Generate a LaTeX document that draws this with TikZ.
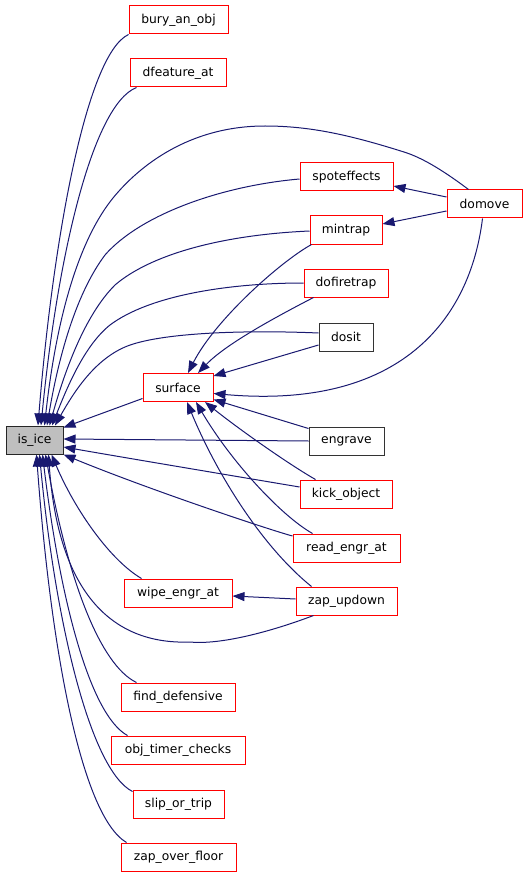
\documentclass[tikz,border=0pt]{standalone}
\usepackage{fontspec}
\setmainfont{DejaVu Sans}
\usetikzlibrary{arrows.meta}
\definecolor{edgeblue}{RGB}{25,25,112}
\definecolor{boxred}{RGB}{255,0,0}
\definecolor{grayfill}{RGB}{191,191,191}
\tikzset{
  fnbox/.style={draw=boxred, line width=1pt, fill=white, minimum height=28pt, inner sep=0pt, font=\fontsize{12.3}{14}\selectfont},
  blackbox/.style={fnbox, draw=black!80},
  rootbox/.style={fnbox, draw=black!85, fill=grayfill},
  arr/.style={draw=edgeblue, line width=1pt, -{Triangle[length=12pt,width=9pt]}},
}
\begin{document}
\begin{tikzpicture}[x=1pt,y=-1pt]
\useasboundingbox (0,0) rectangle (528,877);
% nodes
\node[fnbox, minimum width=99pt] (bury) at (178.5,20) {bury\_an\_obj};
\node[fnbox, minimum width=96pt] (dfeature) at (178,73) {dfeature\_at};
\node[fnbox, minimum width=93pt] (spot) at (346.5,177) {spoteffects};
\node[fnbox, minimum width=75pt] (domove) at (484.5,204) {domove};
\node[fnbox, minimum width=72pt] (mintrap) at (346,230) {mintrap};
\node[fnbox, minimum width=84pt] (dofire) at (346,283) {dofiretrap};
\node[blackbox, minimum width=54pt] (dosit) at (346,337) {dosit};
\node[fnbox, minimum width=70pt] (surface) at (178,387.5) {surface};
\node[rootbox, minimum width=57pt] (isice) at (34.5,440) {is\_ice};
\node[blackbox, minimum width=75pt] (engrave) at (346.5,441) {engrave};
\node[fnbox, minimum width=92pt] (kick) at (346,494) {kick\_object};
\node[fnbox, minimum width=107pt] (read) at (346.5,548) {read\_engr\_at};
\node[fnbox, minimum width=101pt] (zapup) at (346.5,601) {zap\_updown};
\node[fnbox, minimum width=108pt] (wipe) at (178,593) {wipe\_engr\_at};
\node[fnbox, minimum width=114pt] (finddef) at (178,697) {find\_defensive};
\node[fnbox, minimum width=134pt] (objt) at (178,750) {obj\_timer\_checks};
\node[fnbox, minimum width=91pt] (slip) at (178.5,804) {slip\_or\_trip};
\node[fnbox, minimum width=115pt] (zapfl) at (178.5,857) {zap\_over\_floor};
% edges into is_ice from above
\draw[arr] (bury.south west) .. controls (85,55) and (52,250) .. ([xshift=3.5pt]isice.north);
\draw[arr] ([xshift=7pt]dfeature.south west) .. controls (92,105) and (57,260) .. ([xshift=6.5pt]isice.north);
\draw[arr] ([xshift=-16pt]domove.north) .. controls (440,168) and (420,157) .. (404,152)
  .. controls (350,135) and (310,126) .. (265,126)
  .. controls (190,126) and (140,165) .. (113,198)
  .. controls (75,245) and (55,330) .. ([xshift=10pt]isice.north);
\draw[arr] ([yshift=-2pt]spot.west) .. controls (220,186) and (140,215) .. (105,255)
  .. controls (75,295) and (58,360) .. ([xshift=12.5pt]isice.north);
\draw[arr] ([yshift=-1pt]mintrap.west) .. controls (220,235) and (150,255) .. (115,285)
  .. controls (85,315) and (65,370) .. ([xshift=15pt]isice.north);
\draw[arr] (dofire.west) .. controls (230,283) and (150,295) .. (110,325)
  .. controls (85,345) and (68,385) .. ([xshift=17.5pt]isice.north);
\draw[arr] ([yshift=4pt]dosit.west) .. controls (250,330) and (160,332) .. (125,347)
  .. controls (95,360) and (75,390) .. ([xshift=20.5pt]isice.north);
% edges into is_ice from the right
\draw[arr] ([yshift=3.5pt]surface.south west) -- ([yshift=-2pt]isice.north east);
\draw[arr] (engrave.west) -- ([yshift=1pt]isice.east);
\draw[arr] ([yshift=7pt]kick.west) .. controls (270,482) and (150,462) .. ([yshift=-7pt]isice.east);
\draw[arr] ([yshift=12pt]read.west) .. controls (270,530) and (150,490) .. (isice.south east);
% edges into is_ice from below
\draw[arr] ([xshift=18pt]zapup.south west) .. controls (270,632) and (220,645) .. (190,642)
  .. controls (110,645) and (58,590) .. ([xshift=14pt]isice.south);
\draw[arr] ([xshift=18pt]wipe.north west) .. controls (110,560) and (75,510) .. ([xshift=17pt]isice.south);
\draw[arr] ([xshift=16pt]finddef.north west) .. controls (100,665) and (68,580) .. ([xshift=11pt]isice.south);
\draw[arr] ([xshift=17pt]objt.north west) .. controls (90,715) and (60,600) .. ([xshift=8pt]isice.south);
\draw[arr] ([yshift=-2pt]slip.north west) .. controls (90,770) and (55,620) .. ([xshift=5pt]isice.south);
\draw[arr] ([xshift=6pt]zapfl.north west) .. controls (80,815) and (50,640) .. ([xshift=2pt]isice.south);
% edges into surface
\draw[arr] ([xshift=2pt]mintrap.south west) .. controls (280,262) and (215,320) .. ([xshift=10pt]surface.north);
\draw[arr] ([xshift=10pt]dofire.south west) .. controls (270,320) and (225,345) .. ([xshift=20pt]surface.north);
\draw[arr] ([yshift=-8pt]dosit.west) -- ([yshift=-3pt]surface.north east);
\draw[arr] ([xshift=-2pt]domove.south) .. controls (470,320) and (400,410) .. ([yshift=-6pt]surface.east);
\draw[arr] ([yshift=-2pt]engrave.north west) -- ([yshift=2.5pt]surface.south east);
\draw[arr] ([xshift=16pt]kick.north west) .. controls (290,465) and (240,430) .. ([xshift=27pt]surface.south);
\draw[arr] ([xshift=20pt]read.north west) .. controls (280,515) and (230,460) .. ([xshift=18pt]surface.south);
\draw[arr] ([xshift=16pt]zapup.north west) .. controls (260,545) and (215,470) .. ([xshift=9pt]surface.south);
% other edges
\draw[arr] ([yshift=7pt]domove.west) -- ([yshift=-9pt]spot.east);
\draw[arr] ([yshift=-7pt]domove.west) -- ([yshift=6pt]mintrap.east);
\draw[arr] ([yshift=2pt]zapup.west) -- ([yshift=-3pt]wipe.east);
\end{tikzpicture}
\end{document}
